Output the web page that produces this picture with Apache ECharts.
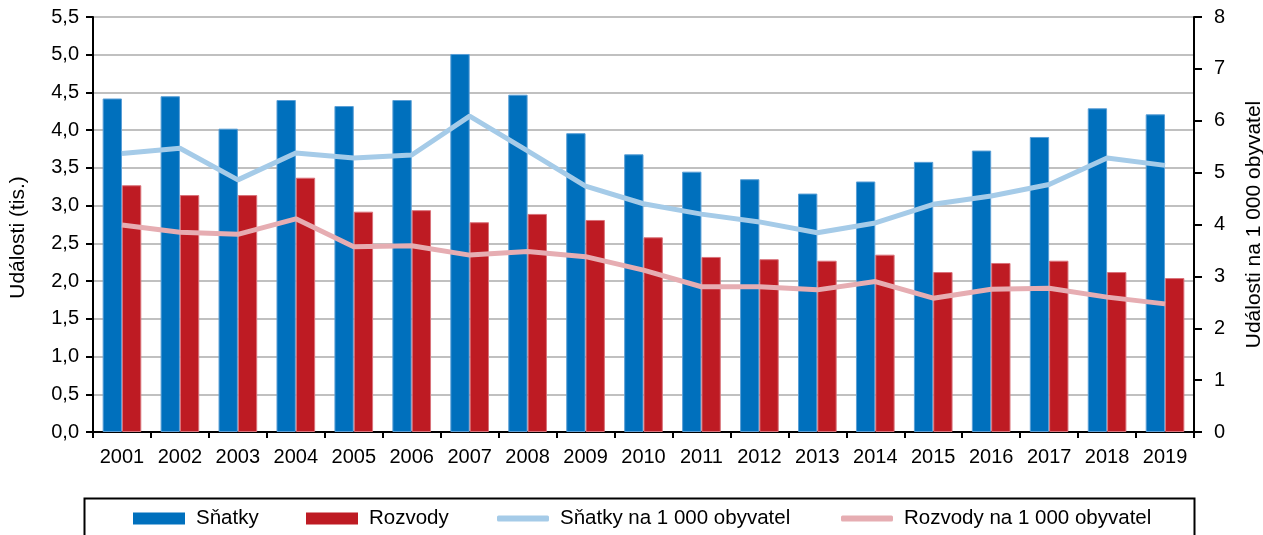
<!DOCTYPE html>
<html>
<head>
<meta charset="utf-8">
<script src="https://cdn.jsdelivr.net/npm/echarts@6/dist/echarts.min.js"></script>
<style>
html,body{margin:0;padding:0;background:#fff;}
#chart{width:1263px;height:535px;}
</style>
</head>
<body>
<div id="chart"></div>
<script>
const years = ['2001','2002','2003','2004','2005','2006','2007','2008','2009','2010','2011','2012','2013','2014','2015','2016','2017','2018','2019'];
const snatky = [4.42,4.45,4.02,4.40,4.32,4.40,5.01,4.47,3.96,3.68,3.45,3.35,3.16,3.32,3.58,3.73,3.91,4.29,4.21];
const rozvody = [3.27,3.14,3.14,3.37,2.92,2.94,2.78,2.89,2.81,2.58,2.32,2.29,2.27,2.35,2.12,2.24,2.27,2.12,2.04];
const snatkyRate = [5.37,5.47,4.86,5.38,5.28,5.34,6.09,5.42,4.74,4.40,4.20,4.05,3.84,4.03,4.39,4.55,4.77,5.28,5.14];
const rozvodyRate = [3.99,3.85,3.81,4.11,3.57,3.59,3.41,3.48,3.38,3.12,2.80,2.80,2.74,2.90,2.58,2.75,2.77,2.60,2.47];
const leftTicks = {min:0, max:5.5, interval:0.5};
const rightTicks = {min:0, max:8, interval:1};
const names = ['Sňatky','Rozvody','Sňatky na 1 000 obyvatel','Rozvody na 1 000 obyvatel'];

const FONT = 'Liberation Sans, Arial, sans-serif';
const txt = {color:'#000', fontFamily:FONT, fontSize:20};
const chart = echarts.init(document.getElementById('chart'), null, {renderer:'canvas'});

function legendAt(name, left, icon, h){
  return {
    data:[name], left:left, top:508, padding:0, itemWidth:52, itemHeight:h,
    icon:icon, selectedMode:false,
    itemStyle:{borderWidth:0},
    textStyle:Object.assign({}, txt, {fontSize:20.5, padding:[0,0,0,6]})
  };
}

chart.setOption({
  animation:false,
  backgroundColor:'#fff',
  grid:{left:93, right:69, top:17, bottom:103, containLabel:false, outerBoundsMode:'none'},
  legend:[
    legendAt(names[0], 133, 'rect', 12),
    legendAt(names[1], 306, 'rect', 12),
    legendAt(names[2], 497, 'roundRect', 6),
    legendAt(names[3], 841, 'roundRect', 6)
  ],
  graphic:[{
    type:'rect', left:82, top:496, z:0,
    shape:{width:1110, height:70},
    style:{fill:'none', stroke:'#000', lineWidth:2}
  }],
  xAxis:[{
    type:'category', data:years, boundaryGap:true,
    axisLine:{lineStyle:{color:'#000', width:2}},
    axisTick:{show:true, inside:false, length:6, alignWithLabel:false, lineStyle:{color:'#000', width:2}},
    axisLabel:Object.assign({}, txt, {margin:15, interval:0}),
    splitLine:{show:false}
  },{
    type:'category', data:years, position:'top',
    axisLine:{show:true, lineStyle:{color:'#000', width:2}},
    axisTick:{show:false}, axisLabel:{show:false}, splitLine:{show:false}
  }],
  yAxis:[{
    type:'value', min:leftTicks.min, max:leftTicks.max, interval:leftTicks.interval,
    name:'Události (tis.)', nameLocation:'middle', nameGap:64, nameRotate:90,
    nameTextStyle:Object.assign({}, txt, {fontSize:21, padding:[0,26,0,0]}),
    axisLine:{show:true, lineStyle:{color:'#000', width:2}},
    axisTick:{show:true, inside:false, length:7, lineStyle:{color:'#000', width:2}},
    axisLabel:Object.assign({}, txt, {margin:14, formatter:v => v.toFixed(1).replace('.', ',')}),
    splitLine:{show:true, lineStyle:{color:'#c0c0c0', width:2}}
  },{
    type:'value', min:rightTicks.min, max:rightTicks.max, interval:rightTicks.interval,
    position:'right',
    name:'Události na 1 000 obyvatel', nameLocation:'middle', nameGap:50, nameRotate:90,
    nameTextStyle:Object.assign({}, txt, {fontSize:21}),
    axisLine:{show:true, lineStyle:{color:'#000', width:2}},
    axisTick:{show:true, inside:false, length:8, lineStyle:{color:'#000', width:2}},
    axisLabel:Object.assign({}, txt, {margin:20, formatter:v => String(v)}),
    splitLine:{show:false}
  }],
  series:[{
    name:names[0], type:'bar', data:snatky, yAxisIndex:0,
    barGap:'0%', barCategoryGap:'33.3%',
    itemStyle:{color:'#0070bd', borderColor:'#5a9fd6', borderWidth:1}
  },{
    name:names[1], type:'bar', data:rozvody, yAxisIndex:0,
    barGap:'0%', barCategoryGap:'33.3%',
    itemStyle:{color:'#be1b23', borderColor:'#d9727a', borderWidth:1}
  },{
    name:names[2], type:'line', data:snatkyRate, yAxisIndex:1,
    symbol:'none', smooth:false,
    lineStyle:{color:'#a5cbe8', width:5}, itemStyle:{color:'#a5cbe8'}
  },{
    name:names[3], type:'line', data:rozvodyRate, yAxisIndex:1,
    symbol:'none', smooth:false,
    lineStyle:{color:'#e6adb2', width:5}, itemStyle:{color:'#e6adb2'}
  }]
});
</script>
</body>
</html>
